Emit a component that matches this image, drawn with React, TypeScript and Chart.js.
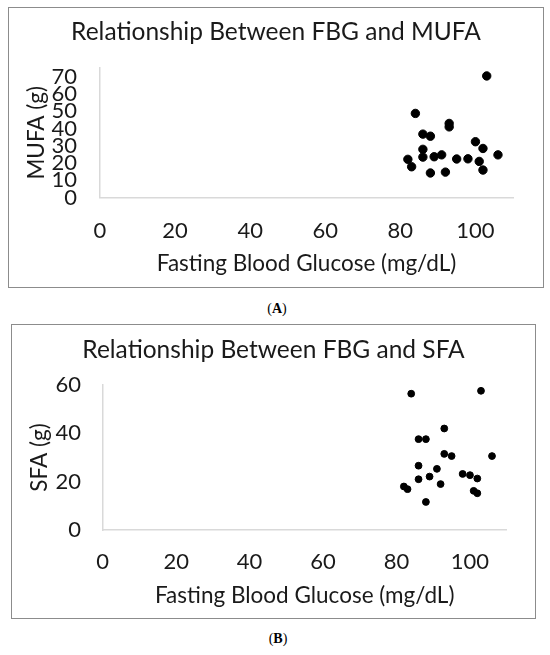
import { useEffect, useRef } from "react";
import Chart from "chart.js/auto";

// fasting blood glucose (mg/dL), same participants in both panels
const fbgA = [103, 84, 93, 93, 86, 88, 100, 102, 86, 86, 89, 91, 106, 82, 83, 95, 98, 101, 102, 88, 92];
const mufa = [70.4, 48.7, 42.9, 40.9, 36.7, 35.5, 32.3, 28.4, 27.9, 23.4, 23.6, 24.7, 24.7, 22.1, 17.8, 22.3, 22.4, 20.9, 15.9, 14.2, 14.7];

const fbgB = [84, 103, 93, 86, 88, 93, 95, 106, 86, 91, 89, 86, 98, 100, 102, 92, 82, 83, 101, 102, 88];
const sfa = [56.4, 57.6, 42.0, 37.6, 37.6, 31.5, 30.6, 30.6, 26.6, 25.3, 22.1, 21.0, 23.2, 22.7, 21.3, 19.0, 18.0, 16.9, 16.2, 15.2, 11.6];

const xTitle = "Fasting Blood Glucose (mg/dL)";
const font = "Lato, 'Open Sans', sans-serif";
const textColor = "#1a1a1a";
const axisLine = "#d9d9d9";

type PanelProps = {
  xs: number[];
  ys: number[];
  title: string;
  yTitle: string;
  yMax: number;
  yStep: number;
  width: number;
  height: number;
  plotLeft: number;
  xAxisHeight: number;
  sidePad: number;
  titlePad: { top: number; bottom: number };
  xTickPad: number;
  yTickPad: number;
  xTitlePad: number;
  yTitleX: number;
  radius: number;
};

const Panel = (p: PanelProps) => {
  const canvasRef = useRef<HTMLCanvasElement | null>(null);

  useEffect(() => {
    if (!canvasRef.current) return;
    const ctx = canvasRef.current.getContext("2d");
    if (!ctx) return;

    const titleLh = 22.5 * 1.2;

    const chart = new Chart(ctx, {
      type: "scatter",
      data: {
        datasets: [
          {
            data: p.xs.map((x, i) => ({ x, y: p.ys[i] })),
            backgroundColor: "#000",
            borderColor: "#000",
            pointRadius: p.radius,
            pointHoverRadius: p.radius,
          },
        ],
      },
      options: {
        responsive: false,
        animation: false,
        // same padding both sides so the chart title stays centred in the frame
        layout: { padding: { left: p.sidePad, right: p.sidePad, top: 0, bottom: 0 } },
        plugins: {
          legend: { display: false },
          tooltip: { enabled: false },
          title: {
            display: true,
            text: p.title,
            color: textColor,
            font: { family: font, size: 24.5, weight: "normal" },
            padding: p.titlePad,
          },
        },
        scales: {
          x: {
            type: "linear",
            min: 0,
            max: 110,
            grid: { display: false, drawTicks: false },
            border: { display: true, color: axisLine, width: 1.5 },
            ticks: {
              stepSize: 20,
              includeBounds: false,
              color: textColor,
              padding: p.xTickPad,
              maxRotation: 0,
              font: { family: font, size: 22 },
            },
            title: {
              display: true,
              text: xTitle,
              color: textColor,
              font: { family: font, size: 22.5 },
              padding: { top: 0, bottom: p.xTitlePad },
            },
            afterFit: (scale) => {
              scale.height = p.xAxisHeight;
            },
          },
          y: {
            type: "linear",
            min: 0,
            max: p.yMax,
            grid: { display: false, drawTicks: false },
            border: { display: true, color: axisLine, width: 1.5 },
            ticks: {
              stepSize: p.yStep,
              includeBounds: false,
              autoSkip: false,
              color: textColor,
              padding: p.yTickPad,
              font: { family: font, size: 22 },
            },
            title: {
              display: true,
              text: p.yTitle,
              color: textColor,
              font: { family: font, size: 22.5 },
              padding: { top: p.yTitleX - p.sidePad - titleLh / 2, bottom: 0 },
            },
            afterFit: (scale) => {
              scale.width = p.plotLeft - p.sidePad;
            },
          },
        },
      },
    });

    return () => {
      chart.destroy();
    };
  }, []);

  return <canvas ref={canvasRef} width={p.width} height={p.height} style={{ width: p.width, height: p.height, display: "block" }} />;
};

const frame = (left: number, top: number, width: number, height: number) => ({
  position: "absolute" as const,
  left,
  top,
  width,
  height,
  border: "1.5px solid #8c8c8c",
  boxSizing: "border-box" as const,
});

const caption = (top: number, left: number) => ({
  position: "absolute" as const,
  top,
  left,
  width: 40,
  marginLeft: -20,
  textAlign: "center" as const,
  fontFamily: "'Liberation Serif', 'DejaVu Serif', serif",
  fontSize: 14,
  color: "#000",
});

export default function App() {
  return (
    <div style={{ position: "absolute", left: 0, top: 0, width: 550, height: 655, background: "#fff" }}>
      <div style={frame(8, 7, 536, 281)} />
      <div style={{ position: "absolute", left: 8, top: 7 }}>
        <Panel
          xs={fbgA}
          ys={mufa}
          title="Relationship Between FBG and MUFA"
          yTitle="MUFA (g)"
          yMax={75}
          yStep={10}
          width={536}
          height={281}
          plotLeft={92}
          xAxisHeight={90.5}
          sidePad={31}
          titlePad={{ top: 10.8, bottom: 20.8 }}
          xTickPad={19.8}
          yTickPad={23}
          xTitlePad={10.5}
          yTitleX={29}
          radius={4.2}
        />
      </div>
      <div style={caption(301, 277)}>
        (<b>A</b>)
      </div>

      <div style={frame(11, 324, 525, 295)} />
      <div style={{ position: "absolute", left: 11, top: 324 }}>
        <Panel
          xs={fbgB}
          ys={sfa}
          title="Relationship Between FBG and SFA"
          yTitle="SFA (g)"
          yMax={60}
          yStep={20}
          width={525}
          height={295}
          plotLeft={91.7}
          xAxisHeight={89}
          sidePad={29.3}
          titlePad={{ top: 11.3, bottom: 20.3 }}
          xTickPad={18.5}
          yTickPad={21.7}
          xTitlePad={9.5}
          yTitleX={29}
          radius={3.4}
        />
      </div>
      <div style={caption(631, 278)}>
        (<b>B</b>)
      </div>
    </div>
  );
}
